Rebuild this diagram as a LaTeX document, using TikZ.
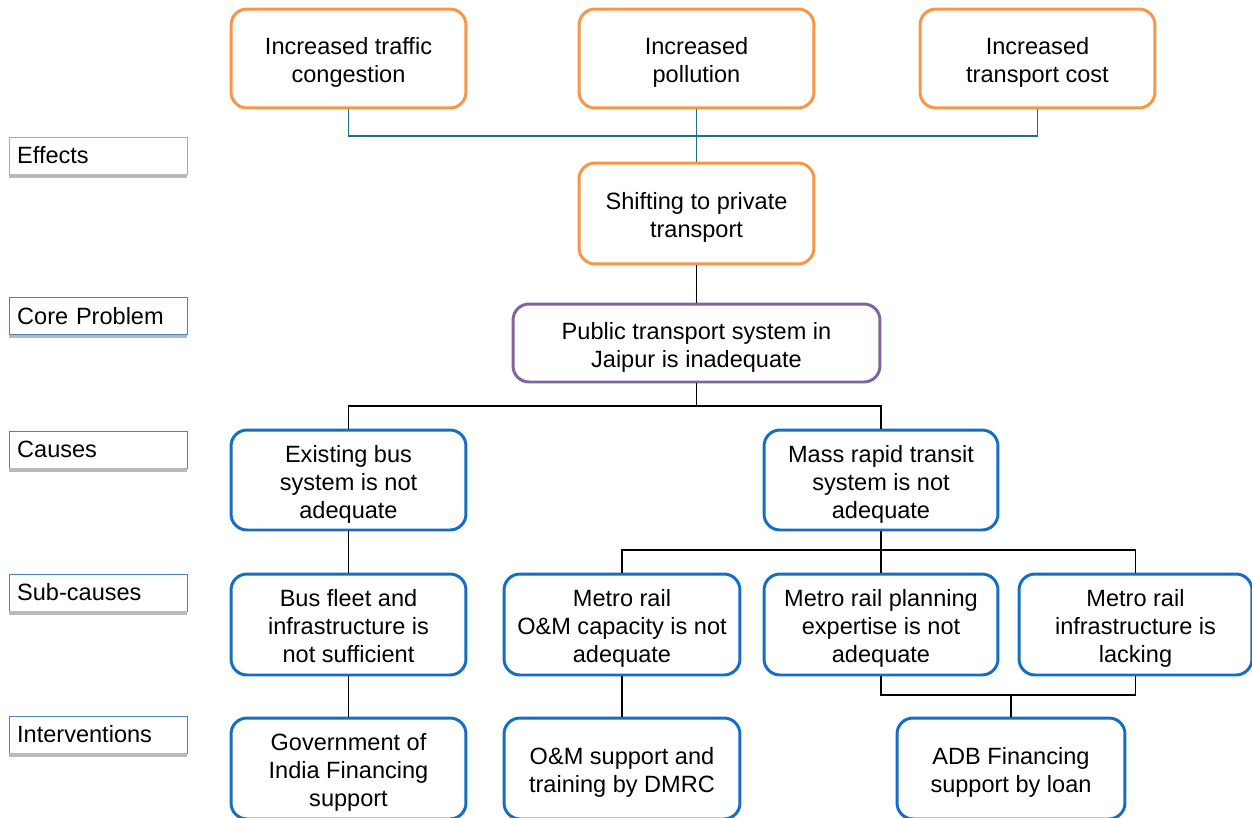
\documentclass[tikz,border=0pt]{standalone}
\usepackage{fontspec}
\setmainfont{Liberation Sans}
\definecolor{borange}{RGB}{247,150,70}
\definecolor{bpurple}{RGB}{128,100,162}
\definecolor{bblue}{RGB}{22,110,195}
\definecolor{lblue}{RGB}{79,129,189}
\definecolor{tealc}{RGB}{30,110,145}
\newcommand\mtxt[1]{\raisebox{-6.2pt}[0pt][0pt]{\begin{tabular}[c]{@{}c@{}}#1\end{tabular}}}
\begin{document}
\begin{tikzpicture}[x=0.02cm,y=-0.02cm,
  every node/.style={font=\fontsize{13.4}{15.9}\selectfont},
  box/.style={draw, rounded corners=0.32cm, line width=1.7pt, fill=white, inner sep=0pt},
  obox/.style={box, draw=borange, minimum width=4.70cm},
  bbox/.style={box, draw=bblue, minimum height=2.02cm},
  lab/.style={draw, line width=0.5pt, anchor=west, minimum width=3.56cm, minimum height=0.74cm, text width=3.25cm, align=left, inner sep=0pt, inner xsep=0.13cm},
  conn/.style={line width=0.85pt, black},
  tconn/.style={line width=0.85pt, tealc}]
\clip (0,0) rectangle (1252,818);
\useasboundingbox (0,0) rectangle (1252,818);
% left labels
\node[lab, draw=borange] (l1) at (9,155.5) {Effects};
\node[lab, draw=lblue] (l2) at (9,316) {Core Problem};
\node[lab, draw=lblue] (l3) at (9,449.5) {Causes};
\node[lab, draw=lblue] (l4) at (9,592.5) {Sub-causes};
\node[lab, draw=lblue] (l5) at (9,734.5) {Interventions};
\foreach \l in {l1,l2,l3,l4,l5}{
  \fill[gray!55] (\l.south west) rectangle ++(178,3.5);
}
% effects
\node[obox, minimum height=1.98cm] (e1) at (348.5,58.5) {\mtxt{Increased traffic\\congestion}};
\node[obox, minimum height=1.98cm] (e2) at (696.5,58.5) {\mtxt{Increased\\pollution}};
\node[obox, minimum height=1.98cm] (e3) at (1037.5,58.5) {\mtxt{Increased\\transport cost}};
\node[obox, minimum height=2.02cm] (sh) at (696.5,213.5) {\mtxt{Shifting to private\\transport}};
% core
\node[box, draw=bpurple, minimum width=7.34cm, minimum height=1.56cm] (core) at (696.5,343) {\mtxt{Public transport system in\\Jaipur is inadequate}};
% causes
\node[bbox, minimum width=4.70cm, minimum height=2.0cm] (c1) at (348.5,480) {\mtxt{Existing bus\\system is not\\adequate}};
\node[bbox, minimum width=4.68cm, minimum height=2.0cm] (c2) at (881,480) {\mtxt{Mass rapid transit\\system is not\\adequate}};
% sub-causes
\node[bbox, minimum width=4.70cm] (s1) at (348.5,624.5) {\mtxt{Bus fleet and\\infrastructure is\\not sufficient}};
\node[bbox, minimum width=4.72cm] (s2) at (622,624.5) {\mtxt{Metro rail\\O\&M capacity is not\\adequate}};
\node[bbox, minimum width=4.68cm] (s3) at (881,624.5) {\mtxt{Metro rail planning\\expertise is not\\adequate}};
\node[bbox, minimum width=4.66cm] (s4) at (1135.5,624.5) {\mtxt{Metro rail\\infrastructure is\\lacking}};
% interventions
\node[bbox, minimum width=4.70cm] (i1) at (348.5,768.5) {\mtxt{Government of\\India Financing\\support}};
\node[bbox, minimum width=4.72cm] (i2) at (622,768.5) {\mtxt{O\&M support and\\training by DMRC}};
\node[bbox, minimum width=4.56cm] (i3) at (1011,768.5) {\mtxt{ADB Financing\\support by loan}};
% connectors
\coordinate (tj) at (696.5,136);
\coordinate (cj) at (696.5,406);
\coordinate (mj) at (881,550);
\coordinate (aj) at (1011,695);
\draw[tconn] (e1.south) |- (tj) -| (e3.south);
\draw[tconn] (e2.south) -- (sh.north);
\draw[conn] (sh.south) -- (core.north);
\draw[conn] (core.south) -- (cj);
\draw[conn] (c1.north) |- (cj) -| (c2.north);
\draw[conn] (c1.south) -- (s1.north);
\draw[conn] (s1.south) -- (i1.north);
\draw[conn] (c2.south) -- (mj);
\draw[conn] (s2.north) |- (mj) -| (s4.north);
\draw[conn] (mj) -- (s3.north);
\draw[conn] (s2.south) -- (i2.north);
\draw[conn] (s3.south) |- (aj) -| (s4.south);
\draw[conn] (aj) -- (i3.north);
\end{tikzpicture}
\end{document}
